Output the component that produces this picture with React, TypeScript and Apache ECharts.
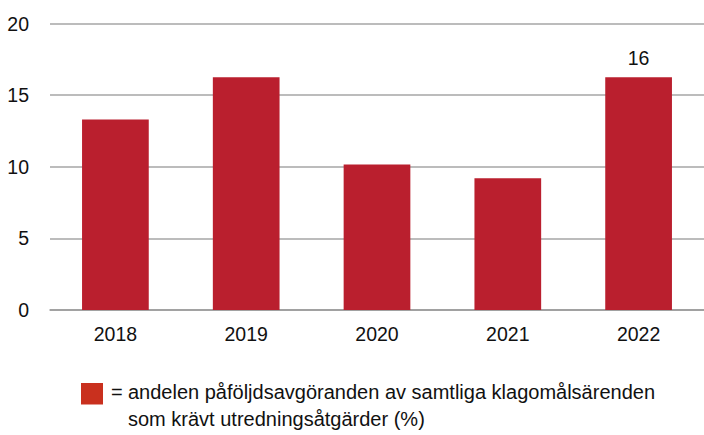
import React, { useEffect, useRef } from "react";
import * as echarts from "echarts";

const categories = ["2018", "2019", "2020", "2021", "2022"];
const values = [13.3, 16.25, 10.15, 9.2, 16.25];
const labelShown = [false, false, false, false, true];
const labelTexts = ["", "", "", "", "16"];
const yTicks = [0, 5, 10, 15, 20];
const legendLine1 = "andelen påföljdsavgöranden av samtliga klagomålsärenden";
const legendLine2 = "som krävt utredningsåtgärder (%)";

const FONT = "'Liberation Sans', Arial, sans-serif";
const TICK_SIZE = 19.5;

export default function App() {
  const ref = useRef<HTMLDivElement>(null);
  useEffect(() => {
    if (!ref.current) return;
    const chart = echarts.init(ref.current, null, { renderer: "svg" });
    chart.setOption({
      animation: false,
      textStyle: { fontFamily: FONT },
      grid: { left: 50, right: 0, top: 23.5, bottom: 125, containLabel: false },
      xAxis: {
        type: "category",
        data: categories,
        axisLine: { show: true, lineStyle: { color: "#999999", width: 1.5 } },
        axisTick: { show: false },
        axisLabel: { color: "#111111", fontSize: TICK_SIZE, fontFamily: FONT, margin: 14 },
      },
      yAxis: {
        type: "value",
        min: yTicks[0],
        max: yTicks[yTicks.length - 1],
        interval: 5,
        axisLine: { show: false },
        axisTick: { show: false },
        splitLine: { lineStyle: { color: "#a6a6a6", width: 1.5 } },
        axisLabel: { color: "#111111", fontSize: TICK_SIZE, fontFamily: FONT, margin: 21 },
      },
      series: [
        {
          type: "bar",
          data: values.map((v, i) => ({
            value: v,
            label: {
              show: labelShown[i],
              position: "top",
              formatter: labelTexts[i],
              color: "#111111",
              fontSize: TICK_SIZE,
              fontFamily: FONT,
              distance: 9,
            },
          })),
          barWidth: "51%",
          itemStyle: { color: "#BA1F2E" },
        },
      ],
      graphic: [
        {
          type: "rect",
          shape: { x: 81, y: 383, width: 22, height: 21.5 },
          style: { fill: "#C9301E" },
        },
        {
          type: "text",
          x: 111,
          y: 392,
          style: { text: "=", fontSize: 20, fontFamily: FONT, fill: "#111111", verticalAlign: "middle" },
        },
        {
          type: "text",
          x: 128,
          y: 392,
          style: { text: legendLine1, fontSize: 20, fontFamily: FONT, fill: "#111111", verticalAlign: "middle" },
        },
        {
          type: "text",
          x: 128,
          y: 419,
          style: { text: legendLine2, fontSize: 20, fontFamily: FONT, fill: "#111111", verticalAlign: "middle" },
        },
      ],
    });
    return () => chart.dispose();
  }, []);
  return <div ref={ref} style={{ width: 704, height: 435, position: "absolute", left: 0, top: 0 }} />;
}
